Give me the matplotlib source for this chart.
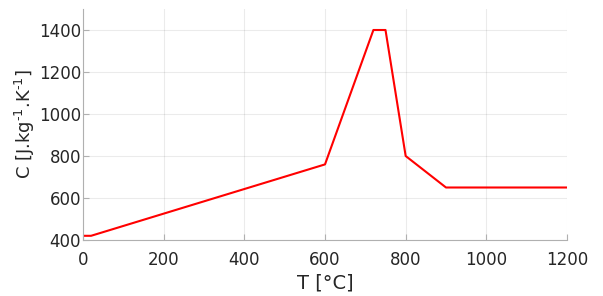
import matplotlib
matplotlib.use("Agg")
import matplotlib.pyplot as plt

# temperature [°C] and specific heat [J/kg/K]
T = [0, 20, 600, 720, 750, 800, 900, 1200]
C = [420, 420, 760, 1400, 1400, 800, 650, 650]

xticks = [0, 200, 400, 600, 800, 1000, 1200]
yticks = [400, 600, 800, 1000, 1200, 1400]

plt.rcParams['mathtext.default'] = 'regular'
txt = '#262626'

fig = plt.figure(figsize=(6.03, 2.96), dpi=100)
ax = fig.add_axes([83/603, 56/296, 484/603, 231/296])

ax.plot(T, C, color='red', lw=1.5)

ax.set_xlim(0, 1200)
ax.set_ylim(400, 1500)
ax.set_xticks(xticks)
ax.set_yticks(yticks)
ax.grid(True, color='black', alpha=0.08, lw=0.8)

for s in ['top', 'right']:
    ax.spines[s].set_visible(False)
for s in ['left', 'bottom']:
    ax.spines[s].set_color('#b0b0b0')
    ax.spines[s].set_linewidth(0.8)

ax.tick_params(direction='in', length=4, width=0.8, color='#b0b0b0',
               labelsize=12, labelcolor=txt)
ax.tick_params(axis='x', pad=8)
ax.tick_params(axis='y', pad=1.5)

ax.set_xlabel('T [°C]', fontsize=14, color=txt, labelpad=3)
ax.set_ylabel(r'C [J.kg$^{\text{-}1}$.K$^{\text{-}1}$]', fontsize=13, color=txt, labelpad=1)

fig.savefig('out.png', dpi=100)
